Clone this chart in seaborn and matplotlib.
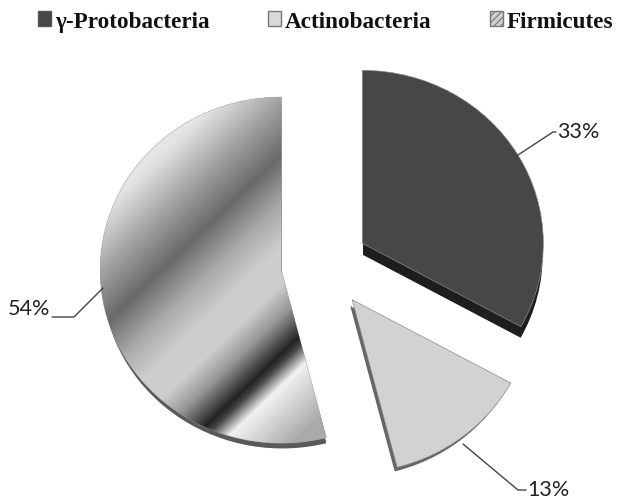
import numpy as np
import seaborn as sns
import matplotlib.pyplot as plt
from matplotlib.patches import Patch

# data
grupos = ["γ-Protobacteria", "Actinobacteria", "Firmicutes"]
porcentajes = [33, 13, 54]
separacion = [0.246, 0.254, 0.238]

# pie geometry in pixels of the output image
W, H = 617, 502
CX, CY = 324, 266
RX, RY = 181, 173


def px(x, y):
    """Pixel position of the image -> data coordinates (1 unit = one pie radius)."""
    return (x - CX) / RX, (CY - y) / RY


def degradado(ax, cuña):
    """Grey diagonal banding of the big slice, clipped to its wedge."""
    t_stops = [0, 95, 140, 179, 215, 245, 272, 295, 322, 329, 345, 394, 600]
    gris = [235, 228, 160, 105, 170, 205, 205, 150, 35, 70, 240, 170, 165]
    yy, xx = np.mgrid[0:H, 0:W]
    # distance along the normal of the bands, measured from the crop origin of the slice
    t = (xx - 90) * 0.69 + (yy - 90) * 0.72
    img = np.interp(t, t_stops, gris)
    x0, y0 = px(0, H)
    x1, y1 = px(W, 0)
    im = ax.imshow(img, cmap="gray", vmin=0, vmax=255, aspect="auto",
                   extent=(x0, x1, y0, y1), origin="upper", zorder=3, interpolation="bilinear")
    im.set_clip_path(cuña)


def lineas_guia(ax):
    """Leader lines and percent labels."""
    guias = [
        ([(518, 156), (553, 133), (556, 133)], (557, 132), "left"),
        ([(463, 445), (518, 491), (526, 491)], (527, 490), "left"),
        ([(103, 289), (74, 318), (52, 318)], (50, 309), "right"),
    ]
    for (puntos, pos, ha), valor in zip(guias, porcentajes):
        xs, ys = zip(*[px(*p) for p in puntos])
        ax.plot(xs, ys, color="#444444", lw=1.0, zorder=5)
        ax.text(*px(*pos), f"{valor}%", ha=ha, va="center", fontsize=15.5,
                family="Lato", color="#222222", zorder=6)


def leyenda(fig):
    manejadores = [
        Patch(facecolor="#474747", edgecolor="#555555", label=grupos[0]),
        Patch(facecolor="#d9d9d9", edgecolor="#777777", label=grupos[1]),
        Patch(facecolor="#d0d0d0", edgecolor="#777777", hatch="/////", label=grupos[2]),
    ]
    fig.legend(handles=manejadores, loc="upper left", ncols=3, frameon=False,
               bbox_to_anchor=(37.5 / W, 1 - 12 / H), borderpad=0, borderaxespad=0,
               prop={"family": "Liberation Serif", "weight": "bold", "size": 16.7},
               handlelength=0.6, handleheight=0.6, handletextpad=0.15,
               columnspacing=2.5, labelcolor="#111111")


if __name__ == "__main__":
    sns.set_theme(style="white")
    plt.rcParams["hatch.linewidth"] = 0.8

    fig = plt.figure(figsize=(W / 100, H / 100), dpi=100)
    ax = fig.add_axes([0, 0, 1, 1])

    # rim of each slice: same pie drawn underneath, shifted a little
    bordes, _ = ax.pie(porcentajes, explode=separacion, startangle=90, counterclock=False,
                       colors=["#1e1e1e", "#666666", "#5a5a5a"])
    desplazamiento = [(0, 12), (-3, 5), (1, 6)]
    for cuña, (dx, dy) in zip(bordes, desplazamiento):
        c = cuña.center
        cuña.set_center((c[0] + dx / RX, c[1] - dy / RY))
        cuña.set_zorder(1)

    # top faces
    caras, _ = ax.pie(porcentajes, explode=separacion, startangle=90, counterclock=False,
                      colors=sns.color_palette(["#474747", "#d2d2d2", "#c8c8c8"]),
                      wedgeprops={"edgecolor": "#8a8a8a", "linewidth": 0.5})
    for cuña in caras:
        cuña.set_zorder(2)

    degradado(ax, caras[2])
    lineas_guia(ax)

    ax.set_aspect("auto")
    x0, y0 = px(0, H)
    x1, y1 = px(W, 0)
    ax.set_xlim(x0, x1)
    ax.set_ylim(y0, y1)
    ax.axis("off")

    leyenda(fig)
    fig.savefig("out.png", dpi=100, facecolor="white")
